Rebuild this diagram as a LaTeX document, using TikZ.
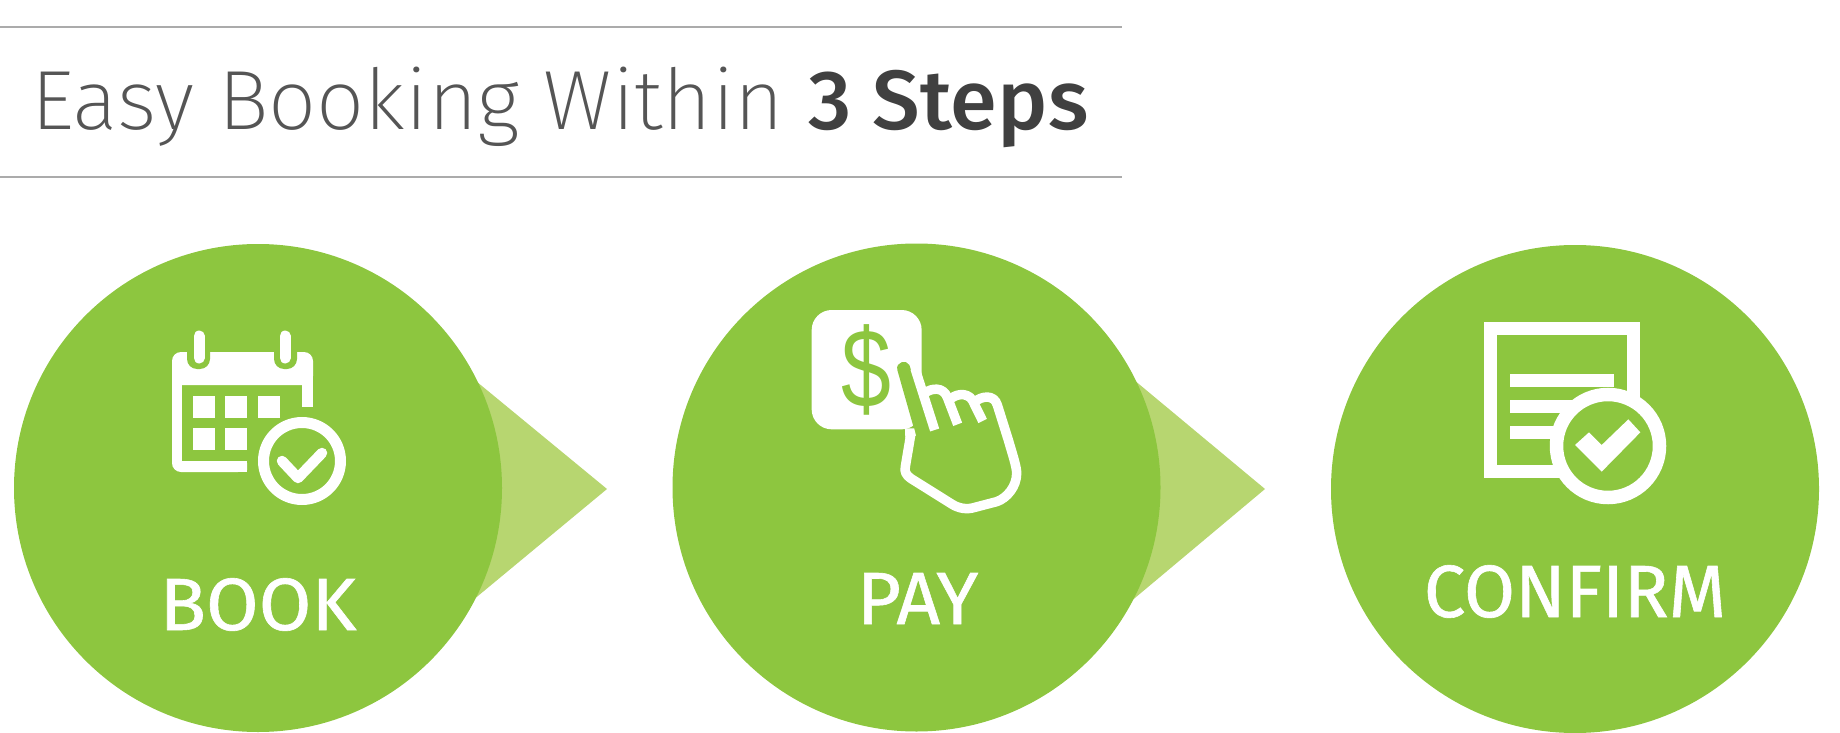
\documentclass[tikz,border=0pt]{standalone}
\usepackage{fontspec}
\setmainfont{Fira Sans}[UprightFont=* ExtraLight,BoldFont=* Medium]
\newfontfamily\lblfont{Fira Sans}[FakeBold=0.8]
\newfontfamily\dollarfont{Liberation Sans}
\definecolor{gr}{HTML}{8DC63F}
\definecolor{ltgr}{HTML}{B7D670}
\definecolor{rulegrey}{HTML}{ABABAB}
\definecolor{titlegrey}{HTML}{555555}
\definecolor{titledark}{HTML}{404040}
\tikzset{
  disc/.style={circle,fill=gr,draw=none,minimum size=488pt,inner sep=0pt},
  pointer/.style={fill=ltgr,draw=none},
  rulerline/.style={draw=rulegrey,line width=1.2pt},
  steplabel/.style={text=white,inner sep=0pt,font=\lblfont\fontsize{74}{74}\selectfont},
  ico/.style={draw=white,line width=9.5pt,line join=round},
  zoomed/.style={scale=1/3}
}
\begin{document}
\begin{tikzpicture}[x=1pt,y=-1pt]
\useasboundingbox (0,0) rectangle (1840,733);
% rules
\coordinate (r1a) at (0,27); \coordinate (r1b) at (1122,27);
\coordinate (r2a) at (0,177); \coordinate (r2b) at (1122,177);
\draw[rulerline] (r1a) -- (r1b);
\draw[rulerline] (r2a) -- (r2b);
% title
\node[anchor=base west,inner sep=0pt,text=titlegrey,xscale=1.01] (title) at (31,130)
 {\fontsize{84}{84}\selectfont Easy Booking Within \textcolor{titledark}{\bfseries 3 Steps}};
% pointers
\coordinate (p1) at (607,489); \coordinate (p2) at (1265,489);
\fill[pointer] (420,335) -- (p1) -- (420,644) -- cycle;
\fill[pointer] (1080,335) -- (p2) -- (1080,644) -- cycle;
% discs
\node[disc] (c1) at (258,488) {};
\node[disc] (c2) at (916.5,487.5) {};
\node[disc] (c3) at (1575,489) {};
% labels
\node[steplabel,anchor=base,xscale=1.03] (l1) at (258,630) {BOOK};
\node[steplabel,anchor=base,xscale=1.03] (l2) at (917.5,624) {PAY};
\node[steplabel,anchor=base,xscale=1.0] (l3) at (1575,617) {CONFIRM};
% calendar
\fill[white,rounded corners=9pt] (172,472) -- (172,352) -- (313,352) -- (313,385) -- (172,385) -- cycle;
\fill[white,rounded corners=9pt] (172,375) -- (172,472) -- (247,472) -- (247,461) -- (172,461) -- cycle;
\fill[white] (172,370) rectangle (182,461);
\fill[white] (190,461) rectangle (247,472);
\fill[white] (302,370) rectangle (313,407);
\fill[white] (180,370) rectangle (313,385);
\fill[gr,rounded corners=10pt] (187,340) rectangle (210,369);
\fill[gr,rounded corners=10pt] (274,340) rectangle (297,369);
\draw[white,line width=11pt,line cap=round] (199,336) -- (199,358);
\draw[white,line width=11pt,line cap=round] (285,336) -- (285,358);
\foreach \cx in {193,225,258}{\fill[white] (\cx,396) rectangle +(22,22);}
\foreach \cx in {193,225}{\fill[white] (\cx,428) rectangle +(22,22);}
\draw[white,line width=11pt,fill=gr] (302,461) circle[radius=38.5pt];
\draw[white,line width=10.5pt,line cap=round,line join=round] (282,461) -- (298,478) -- (322,453);
% pay icon
\begin{scope}[shift={(790,290)},zoomed]
\fill[white,rounded corners=20pt] (65,60) rectangle (395,418);
\node[text=gr,inner sep=0pt,xscale=.8,font=\dollarfont\fontsize{112}{112}\selectfont] (dollar) at (230,240) {\$};
\fill[gr] (322,240) .. controls (316,215) and (350,208) .. (358,225) -- (380,290) -- (403,310)
  .. controls (425,293) and (460,290) .. (472,322)
  .. controls (495,312) and (530,305) .. (547,330)
  .. controls (575,318) and (612,312) .. (622,345) -- (655,450)
  .. controls (668,495) and (680,530) .. (680,550)
  .. controls (680,590) and (650,625) .. (620,635) -- (555,652)
  .. controls (530,660) and (505,655) .. (485,642) -- (362,565)
  .. controls (348,555) and (343,545) .. (346,530) -- (362,435) -- (378,437) -- cycle;
\fill[white] (345,415) -- (372.5,415) -- (378,437) -- (346,445) -- cycle;
\draw[ico] (375,235) -- (434,420);
\draw[ico] (403,310) .. controls (425,293) and (460,290) .. (472,322) -- (503,403);
\draw[ico] (478,330) .. controls (495,312) and (530,305) .. (547,330) -- (578,393);
\draw[ico] (555,335) .. controls (575,318) and (612,312) .. (622,345) -- (655,450)
  .. controls (668,495) and (680,530) .. (680,550)
  .. controls (680,590) and (650,625) .. (620,635) -- (555,652)
  .. controls (530,660) and (505,655) .. (485,642) -- (362,565)
  .. controls (348,555) and (343,545) .. (346,530) -- (362,435);
\end{scope}
% confirm icon
\draw[white,line width=13pt] (1490.5,328.5) rectangle (1633.5,471.5);
\fill[white] (1510,374) rectangle (1614,387);
\fill[white] (1510,400) rectangle (1614,413);
\fill[white] (1510,426) rectangle (1614,439);
\draw[white,line width=13.5pt,fill=gr] (1608,446) circle[radius=51.5pt];
\begin{scope}[shift={(1460,300)},zoomed]
\fill[white] (345,435) -- (387,397) -- (425,435) -- (505,358) -- (541,397) -- (425,515) -- cycle;
\end{scope}
\end{tikzpicture}
\end{document}
